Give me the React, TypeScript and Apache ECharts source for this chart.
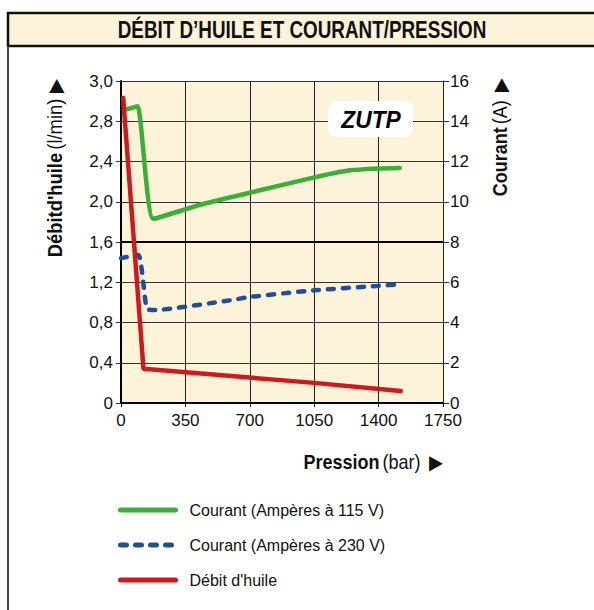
import React, { useEffect, useRef } from "react";
import * as echarts from "echarts";

// Pression (bar)
const pressure115 = [15, 90, 175, 430, 700, 1045, 1235, 1400, 1515];
// Courant à 115 V (A)
const amps115 = [14.55, 14.75, 9.15, 9.85, 10.45, 11.2, 11.55, 11.65, 11.68];

const pressure230 = [0, 95, 140, 185, 590, 700, 1050, 1400, 1515];
// Courant à 230 V (A)
const amps230 = [7.2, 7.35, 4.68, 4.62, 5.1, 5.27, 5.6, 5.82, 5.9];

const pressureOil = [12, 122, 1050, 1520];
// Débit d'huile (l/min)
const oilFlow = [3.03, 0.34, 0.2, 0.12];

const xTicks = [0, 350, 700, 1050, 1400, 1750];
const leftTicks = ["0", "0,4", "0,8", "1,2", "1,6", "2,0", "2,4", "2,8", "3,0"];
const rightTicks = [0, 2, 4, 6, 8, 10, 12, 14, 16];

const legendNames = [
  "Courant (Ampères à 115 V)",
  "Courant (Ampères à 230 V)",
  "Débit d'huile",
];

const SANS = "'Liberation Sans', Arial, Helvetica, sans-serif";
const CREAM = "#fdf3d9";
const GREEN = "#3dae3a";
const BLUE = "#1f4f98";
const RED = "#cc1a1f";

export default function App() {
  const ref = useRef<HTMLDivElement>(null);

  useEffect(() => {
    if (!ref.current) return;
    const chart = echarts.init(ref.current, undefined, { renderer: "svg" });

    const zip = (xs: number[], ys: number[]) => xs.map((x, i) => [x, ys[i]]);

    const axisNameRich = {
      b: { fontFamily: SANS, fontWeight: "bold", fontSize: 20, fill: "#111" },
      n: { fontFamily: SANS, fontSize: 20, fill: "#111" },
    };

    chart.setOption({
      animation: false,
      backgroundColor: "#ffffff",
      grid: {
        left: 121,
        right: 151,
        top: 81,
        bottom: 207,
        show: true,
        backgroundColor: CREAM,
        borderWidth: 0,
      },
      xAxis: {
        type: "value",
        min: xTicks[0],
        max: xTicks[xTicks.length - 1],
        interval: 350,
        axisLine: { show: true, onZero: false, lineStyle: { color: "#000", width: 2 } },
        axisTick: { show: true, length: 4, lineStyle: { color: "#000" } },
        axisLabel: {
          color: "#111",
          fontFamily: SANS,
          fontSize: 17,
          margin: 9,
          formatter: (v: number) => (xTicks.includes(v) ? String(v) : ""),
        },
        splitLine: { show: true, lineStyle: { color: "#222", width: 1 } },
      },
      yAxis: [
        {
          type: "value",
          min: 0,
          max: 3.2,
          interval: 0.4,
          position: "left",
          axisLine: { show: true, lineStyle: { color: "#000", width: 2 } },
          axisTick: { show: true, length: 5, lineStyle: { color: "#333" } },
          axisLabel: {
            color: "#111",
            fontFamily: SANS,
            fontSize: 17,
            margin: 8,
            formatter: (v: number) => leftTicks[Math.round(v / 0.4)] ?? "",
          },
          splitLine: { show: false },
        },
        {
          type: "value",
          min: 0,
          max: 16,
          interval: 2,
          position: "right",
          axisLine: { show: true, lineStyle: { color: "#222", width: 1 } },
          axisTick: { show: true, length: 6, lineStyle: { color: "#333" } },
          axisLabel: {
            color: "#111",
            fontFamily: SANS,
            fontSize: 17,
            margin: 7,
            formatter: (v: number) => (rightTicks.includes(v) ? String(v) : ""),
          },
          splitLine: { show: true, lineStyle: { color: "#333", width: 1 } },
        },
      ],
      legend: {
        orient: "vertical",
        left: 118,
        top: 502,
        padding: 0,
        itemWidth: 55,
        itemHeight: 14,
        itemGap: 19,
        itemStyle: { opacity: 0 },
        lineStyle: { width: 5, cap: "round" },
        data: legendNames,
        textStyle: {
          fontFamily: SANS,
          fontSize: 16,
          color: "#111",
          padding: [0, 0, 0, 9],
        },
      },
      series: [
        {
          name: legendNames[0],
          type: "line",
          yAxisIndex: 1,
          data: zip(pressure115, amps115),
          showSymbol: false,
          symbol: "none",
          smooth: 0.15,
          lineStyle: { color: GREEN, width: 4.5, cap: "round" },
          itemStyle: { color: GREEN },
          markPoint: {
            symbol: "none",
            silent: true,
            data: [
              {
                coord: [520, 10.8],
                label: {
                  show: true,
                  formatter: "115 V",
                  rotate: 15,
                  color: "#111",
                  fontFamily: SANS,
                  fontSize: 16,
                },
              },
            ],
          },
        },
        {
          name: legendNames[1],
          type: "line",
          yAxisIndex: 1,
          data: zip(pressure230, amps230),
          showSymbol: false,
          symbol: "none",
          smooth: 0.15,
          lineStyle: { color: BLUE, width: 4.5, type: [6, 9], cap: "round" },
          itemStyle: { color: BLUE },
          markPoint: {
            symbol: "none",
            silent: true,
            data: [
              {
                coord: [1215, 6.6],
                label: {
                  show: true,
                  formatter: "230 V",
                  rotate: 8,
                  color: "#111",
                  fontFamily: SANS,
                  fontSize: 16,
                },
              },
            ],
          },
          // heavier reference line at 8 A
          markLine: {
            silent: true,
            symbol: "none",
            label: { show: false },
            lineStyle: { color: "#000", width: 2, type: "solid" },
            data: [{ yAxis: 8 }],
            z: 1,
          },
        },
        {
          name: legendNames[2],
          type: "line",
          yAxisIndex: 0,
          data: zip(pressureOil, oilFlow),
          showSymbol: false,
          symbol: "none",
          lineStyle: { color: RED, width: 4.5, cap: "round" },
          itemStyle: { color: RED },
        },
      ],
      graphic: [
        // title bar
        {
          type: "rect",
          shape: { x: 8, y: 13, width: 600, height: 33 },
          style: { fill: CREAM, stroke: "#111", lineWidth: 2.5 },
          z: 10,
        },
        {
          type: "line",
          shape: { x1: 8, y1: 46, x2: 8, y2: 612 },
          style: { stroke: "#444", lineWidth: 2 },
          z: 10,
        },
        {
          type: "text",
          x: 302,
          y: 30,
          scaleX: 0.82,
          style: {
            text: "DÉBIT D’HUILE ET COURANT/PRESSION",
            fontFamily: SANS,
            fontWeight: "bold",
            fontSize: 23,
            fill: "#111",
            align: "center",
            verticalAlign: "middle",
          },
          z: 11,
        },
        // brand badge
        {
          type: "rect",
          shape: { x: 328, y: 101, width: 85, height: 36, r: 8 },
          style: { fill: "#ffffff" },
          z: 20,
        },
        {
          type: "text",
          x: 371,
          y: 120,
          scaleX: 0.95,
          style: {
            text: "ZUTP",
            fontFamily: SANS,
            fontWeight: "bold",
            fontStyle: "italic",
            fontSize: 24,
            fill: "#000",
            align: "center",
            verticalAlign: "middle",
          },
          z: 21,
        },
        // axis names
        {
          type: "text",
          x: 55,
          y: 168,
          rotation: Math.PI / 2,
          scaleX: 0.92,
          style: {
            text: "{b|Débitd'huile} {n|(l/min)}  {n|▶}",
            align: "center",
            verticalAlign: "middle",
            rich: axisNameRich,
          },
        },
        {
          type: "text",
          x: 500,
          y: 137,
          rotation: Math.PI / 2,
          scaleX: 0.9,
          style: {
            text: "{b|Courant} {n|(A)}   {n|▶}",
            align: "center",
            verticalAlign: "middle",
            rich: axisNameRich,
          },
        },
        {
          type: "text",
          x: 443,
          y: 462,
          scaleX: 0.9,
          style: {
            text: "{b|Pression} {n|(bar)}   {n|▶}",
            align: "right",
            verticalAlign: "middle",
            rich: axisNameRich,
          },
        },
      ],
    });

    return () => chart.dispose();
  }, []);

  return (
    <div
      ref={ref}
      style={{ position: "fixed", left: 0, top: 0, width: 594, height: 610 }}
    />
  );
}
